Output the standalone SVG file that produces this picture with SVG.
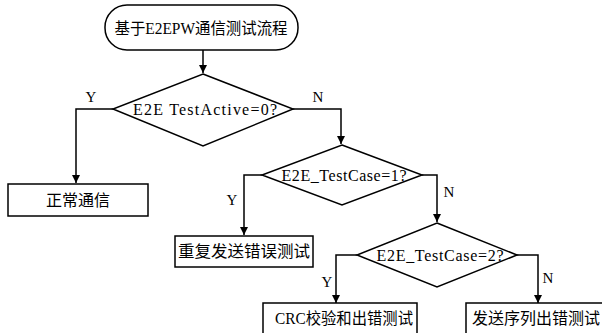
<svg xmlns="http://www.w3.org/2000/svg" width="602" height="333" viewBox="0 0 602 333">
<style>
.s{fill:#fff;stroke:#000;stroke-width:1.5}
.c{fill:none;stroke:#000;stroke-width:1.5}
.t{font-family:"Liberation Serif","Noto Sans CJK SC",serif;font-size:16px;fill:#000;text-anchor:middle}
.m{font-family:"Liberation Serif",serif;font-size:16px;fill:#000;text-anchor:middle}
.l{font-family:"Liberation Serif",serif;font-size:15px;fill:#000;text-anchor:middle}
</style>
<defs>
<marker id="a" viewBox="0 0 10 10" refX="10" refY="5" markerWidth="8" markerHeight="8" markerUnits="userSpaceOnUse" orient="auto">
<path d="M0,0 L10,5 L0,10 z" fill="#000"/>
</marker>
</defs>
<g id="connectors">
<path class="c" d="M203,50 V73" marker-end="url(#a)"/>
<path class="c" d="M113,109 H76 V183" marker-end="url(#a)"/>
<path class="c" d="M293,109 H341 V144" marker-end="url(#a)"/>
<path class="c" d="M262,175 H244 V235" marker-end="url(#a)"/>
<path class="c" d="M422,175 H437 V222" marker-end="url(#a)"/>
<path class="c" d="M357,255 H336 V303" marker-end="url(#a)"/>
<path class="c" d="M517,255 H538 V303" marker-end="url(#a)"/>
<text class="l" x="91" y="102">Y</text>
<text class="l" x="318" y="102">N</text>
<text class="l" x="232" y="205">Y</text>
<text class="l" x="449" y="197">N</text>
<text class="l" x="327" y="287">Y</text>
<text class="l" x="548" y="283">N</text>
</g>
<g id="start">
<rect class="s" x="105" y="5" width="193" height="45" rx="22" ry="22"/>
<text class="t" x="201" y="34" textLength="173" lengthAdjust="spacingAndGlyphs">基于E2EPW通信测试流程</text>
</g>
<g id="d1">
<polygon class="s" points="203,74 293,109 203,146 113,109"/>
<text class="m" x="205" y="115" textLength="144" lengthAdjust="spacing">E2E TestActive=0?</text>
</g>
<g id="n1">
<rect class="s" x="8" y="184" width="140" height="32"/>
<text class="t" x="78" y="206">正常通信</text>
</g>
<g id="d2">
<polygon class="s" points="342,145 422,175 342,205 262,175"/>
<text class="m" x="344" y="181" textLength="125" lengthAdjust="spacing">E2E_TestCase=1?</text>
</g>
<g id="n2">
<rect class="s" x="175" y="236" width="138" height="31"/>
<text class="t" x="244" y="257" textLength="132" lengthAdjust="spacingAndGlyphs">重复发送错误测试</text>
</g>
<g id="d3">
<polygon class="s" points="437,223 517,255 437,287 357,255"/>
<text class="m" x="440" y="261" textLength="127" lengthAdjust="spacing">E2E_TestCase=2?</text>
</g>
<g id="n3">
<rect class="s" x="263" y="303" width="154" height="40"/>
<text class="t" x="344" y="324" textLength="138" lengthAdjust="spacingAndGlyphs">CRC校验和出错测试</text>
</g>
<g id="n4">
<rect class="s" x="466" y="303" width="146" height="40"/>
<text class="t" x="536" y="324" textLength="128" lengthAdjust="spacingAndGlyphs">发送序列出错测试</text>
</g>
</svg>
